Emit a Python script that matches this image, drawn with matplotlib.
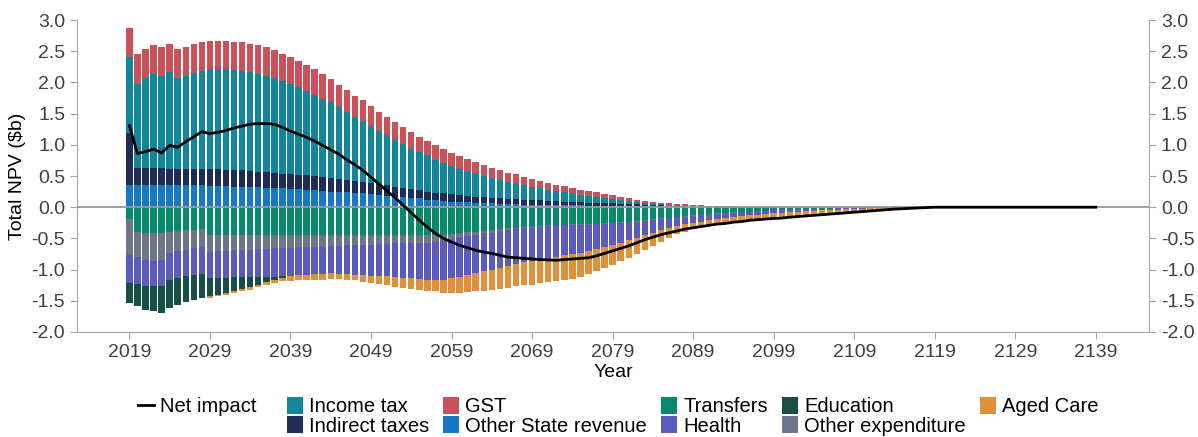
import numpy as np
import matplotlib
matplotlib.use("Agg")
import matplotlib.pyplot as plt
from matplotlib.lines import Line2D
from matplotlib.patches import Patch

plt.rcParams["font.family"] = ["Liberation Sans", "DejaVu Sans"]
plt.rcParams["axes.unicode_minus"] = False

# Data, $b, one value per year from 2019
start_year = 2019

# positive side (stacked up from zero)
other_state_revenue = [
    0.36, 0.36, 0.36, 0.36, 0.36, 0.35, 0.35, 0.35, 0.35, 0.35, 0.34, 0.34,
    0.34, 0.33, 0.33, 0.32, 0.32, 0.31, 0.31, 0.30, 0.29, 0.29, 0.28, 0.27, 0.26, 0.25,
    0.245, 0.24, 0.23, 0.22, 0.21, 0.20, 0.18, 0.17, 0.16, 0.15, 0.14, 0.12, 0.11, 0.10, 0.09, 0.085,
    0.08, 0.075, 0.07, 0.06, 0.055, 0.05, 0.045, 0.043, 0.04, 0.038, 0.036, 0.034, 0.032, 0.03,
    0.028, 0.027, 0.026, 0.025, 0.024, 0.022, 0.02, 0.019, 0.018, 0.017, 0.016, 0.015, 0.014,
    0.013, 0.012, 0.011, 0.01, 0.009, 0.008, 0.007, 0.006,
] + [0.0] * 23
indirect_taxes = [
    0.83, 0.27, 0.27, 0.27, 0.27, 0.27, 0.27, 0.27, 0.27, 0.26, 0.27, 0.27,
    0.26, 0.26, 0.26, 0.26, 0.25, 0.25, 0.24, 0.24, 0.24, 0.23, 0.23, 0.23, 0.22, 0.21,
    0.205, 0.20, 0.19, 0.19, 0.18, 0.17, 0.17, 0.16, 0.15, 0.14, 0.13, 0.13, 0.125, 0.12, 0.115, 0.105,
    0.10, 0.095, 0.09, 0.09, 0.085, 0.08, 0.08, 0.077, 0.075, 0.072, 0.069, 0.066, 0.058, 0.055,
    0.052, 0.048, 0.044, 0.04, 0.036, 0.033, 0.03, 0.026, 0.022, 0.018, 0.014, 0.012, 0.01,
    0.008, 0.006, 0.005, 0.004, 0.003, 0.002, 0.001, 0.0,
] + [0.0] * 23
income_tax = [
    1.22, 1.35, 1.44, 1.51, 1.47, 1.54, 1.45, 1.49, 1.53, 1.57, 1.60, 1.60,
    1.61, 1.61, 1.60, 1.59, 1.57, 1.55, 1.52, 1.48, 1.44, 1.40, 1.35, 1.30, 1.26, 1.22,
    1.16, 1.09, 1.03, 0.97, 0.91, 0.85, 0.80, 0.74, 0.70, 0.65, 0.61, 0.58, 0.525, 0.49, 0.455, 0.43,
    0.40, 0.37, 0.34, 0.32, 0.29, 0.28, 0.255, 0.23, 0.215, 0.19, 0.175, 0.16, 0.15, 0.14,
    0.123, 0.11, 0.096, 0.082, 0.068, 0.057, 0.046, 0.038, 0.029, 0.023, 0.018, 0.013, 0.008,
    0.006, 0.004, 0.003, 0.002, 0.002, 0.001, 0.001, 0.0,
] + [0.0] * 23
gst = [
    0.46, 0.48, 0.47, 0.46, 0.47, 0.46, 0.46, 0.46, 0.46, 0.47, 0.46, 0.46,
    0.46, 0.455, 0.45, 0.45, 0.46, 0.45, 0.45, 0.44, 0.44, 0.425, 0.42, 0.41, 0.39, 0.37,
    0.345, 0.345, 0.33, 0.335, 0.32, 0.31, 0.30, 0.30, 0.28, 0.27, 0.25, 0.23, 0.23, 0.22, 0.215, 0.20,
    0.185, 0.18, 0.18, 0.165, 0.16, 0.145, 0.145, 0.135, 0.12, 0.115, 0.11, 0.10, 0.10, 0.09,
    0.08, 0.077, 0.07, 0.06, 0.06, 0.054, 0.048, 0.04, 0.032, 0.027, 0.027, 0.024, 0.021,
    0.017, 0.011, 0.011, 0.008, 0.006, 0.004, 0.003, 0.002,
] + [0.0] * 23

# negative side (stacked down from zero)
transfers = [
    -0.19, -0.40, -0.42, -0.42, -0.42, -0.39, -0.38, -0.37, -0.36, -0.35,
    -0.45, -0.45, -0.45, -0.45, -0.45, -0.45, -0.45, -0.45, -0.45, -0.45,
    -0.45, -0.45, -0.45, -0.45, -0.45, -0.45, -0.45, -0.45, -0.45, -0.45,
    -0.45, -0.45, -0.45, -0.45, -0.45, -0.45, -0.45, -0.45, -0.45, -0.44,
    -0.43, -0.42, -0.40, -0.39, -0.38, -0.37, -0.35, -0.34, -0.33, -0.32,
    -0.31, -0.30, -0.29, -0.28, -0.28, -0.27, -0.27, -0.27, -0.27, -0.26,
    -0.25, -0.245, -0.235, -0.22, -0.21, -0.195, -0.18, -0.17, -0.16, -0.145,
    -0.13, -0.12, -0.11, -0.10, -0.09, -0.08, -0.075, -0.07, -0.062, -0.056,
    -0.05, -0.045, -0.04, -0.036, -0.032, -0.028, -0.025, -0.022, -0.019, -0.016,
    -0.014, -0.012, -0.01, -0.008, -0.006, -0.005, -0.004, -0.003, -0.002, -0.001,
]
other_expenditure = [
    -0.58, -0.40, -0.43, -0.45, -0.42, -0.34, -0.32, -0.31, -0.29, -0.28,
    -0.27, -0.26, -0.25, -0.24, -0.24, -0.23, -0.22, -0.22, -0.21, -0.20,
    -0.20, -0.19, -0.19, -0.18, -0.18, -0.17, -0.17, -0.16, -0.16, -0.15,
    -0.15, -0.14, -0.14, -0.13, -0.13, -0.13, -0.12, -0.12, -0.11, -0.10,
    -0.08, -0.06, -0.06, -0.05, -0.04, -0.04, -0.03, -0.02, -0.02, -0.02,
    -0.02, -0.01, -0.01, -0.01, -0.01, -0.01, -0.01, -0.01, -0.005, -0.01,
    -0.01, -0.01, -0.01, -0.01, -0.01, -0.01, -0.01, -0.01, -0.005, -0.005,
    -0.005, -0.005, -0.005, -0.005, -0.005, -0.005, -0.005, -0.002, -0.003, -0.002,
    -0.002, -0.002, -0.002, -0.002, -0.002, -0.002, -0.001, -0.001, -0.001, -0.001,
    -0.001, 0.0, 0.0, 0.0, 0.0, 0.0, 0.0, 0.0, 0.0, 0.0,
]
health = [
    -0.45, -0.43, -0.41, -0.40, -0.43, -0.43, -0.43, -0.43, -0.44, -0.44,
    -0.42, -0.42, -0.43, -0.43, -0.43, -0.44, -0.45, -0.45, -0.46, -0.46,
    -0.45, -0.45, -0.44, -0.44, -0.44, -0.44, -0.45, -0.46, -0.47, -0.49,
    -0.50, -0.52, -0.52, -0.54, -0.55, -0.56, -0.58, -0.59, -0.60, -0.62,
    -0.63, -0.64, -0.62, -0.61, -0.61, -0.59, -0.59, -0.585, -0.56, -0.54,
    -0.53, -0.54, -0.53, -0.51, -0.48, -0.47, -0.45, -0.42, -0.395, -0.37,
    -0.35, -0.315, -0.285, -0.26, -0.23, -0.205, -0.18, -0.155, -0.135, -0.125,
    -0.115, -0.105, -0.095, -0.085, -0.075, -0.07, -0.06, -0.058, -0.055, -0.052,
    -0.048, -0.043, -0.04, -0.036, -0.032, -0.028, -0.024, -0.021, -0.018, -0.015,
    -0.012, -0.011, -0.009, -0.007, -0.006, -0.004, -0.003, -0.002, -0.001, -0.001,
]
education = [
    -0.32, -0.35, -0.38, -0.39, -0.42, -0.45, -0.43, -0.41, -0.40, -0.39,
    -0.29, -0.27, -0.24, -0.22, -0.19, -0.16, -0.12, -0.08, -0.05, -0.03,
    -0.01,
] + [0.0] * 79
aged_care = [
    0.0, 0.0, 0.0, 0.0, 0.0, 0.0, 0.0, 0.0, 0.0, 0.0,
    -0.02, -0.03, -0.03, -0.04, -0.04, -0.04, -0.04, -0.04, -0.04, -0.05,
    -0.07, -0.08, -0.08, -0.09, -0.09, -0.09, -0.08, -0.09, -0.09, -0.11,
    -0.11, -0.12, -0.14, -0.16, -0.16, -0.17, -0.17, -0.18, -0.19, -0.21,
    -0.23, -0.25, -0.28, -0.30, -0.31, -0.32, -0.34, -0.345, -0.36, -0.37,
    -0.38, -0.37, -0.37, -0.38, -0.40, -0.40, -0.39, -0.37, -0.36, -0.33,
    -0.31, -0.30, -0.28, -0.26, -0.24, -0.21, -0.19, -0.155, -0.13, -0.115,
    -0.10, -0.095, -0.09, -0.09, -0.09, -0.085, -0.085, -0.08, -0.08, -0.08,
    -0.08, -0.08, -0.073, -0.066, -0.064, -0.062, -0.055, -0.051, -0.047, -0.043,
    -0.038, -0.032, -0.026, -0.021, -0.016, -0.011, -0.007, -0.004, -0.002, 0.0,
]

net_impact = [
    1.31, 0.86, 0.89, 0.93, 0.87, 0.99, 0.96, 1.05, 1.13, 1.21,
    1.18, 1.20, 1.23, 1.27, 1.30, 1.33, 1.34, 1.34, 1.33, 1.28,
    1.22, 1.17, 1.12, 1.06, 0.99, 0.92, 0.85, 0.76, 0.68, 0.59,
    0.48, 0.37, 0.26, 0.15, 0.03, -0.09, -0.21, -0.32, -0.42, -0.50,
    -0.56, -0.61, -0.65, -0.69, -0.72, -0.74, -0.77, -0.80, -0.81, -0.82,
    -0.83, -0.84, -0.845, -0.85, -0.84, -0.83, -0.82, -0.81, -0.78, -0.74,
    -0.70, -0.66, -0.62, -0.57, -0.52, -0.48, -0.44, -0.41, -0.38, -0.35,
    -0.33, -0.31, -0.29, -0.27, -0.26, -0.24, -0.23, -0.21, -0.20, -0.19,
    -0.18, -0.175, -0.16, -0.15, -0.14, -0.13, -0.12, -0.11, -0.10, -0.09,
    -0.08, -0.07, -0.06, -0.05, -0.04, -0.03, -0.025, -0.018, -0.012, -0.006,
] + [0.0] * 21

pos_series = [
    ("Other State revenue", other_state_revenue, "#1578C2"),
    ("Indirect taxes", indirect_taxes, "#1F2D55"),
    ("Income tax", income_tax, "#13869A"),
    ("GST", gst, "#C9525A"),
]
neg_series = [
    ("Transfers", transfers, "#07896C"),
    ("Other expenditure", other_expenditure, "#6C7686"),
    ("Health", health, "#5B5BBE"),
    ("Education", education, "#174E46"),
    ("Aged Care", aged_care, "#E08F3A"),
]

years = np.arange(start_year, start_year + len(transfers))
line_years = np.arange(start_year, start_year + len(net_impact))

fig = plt.figure(figsize=(11.98, 4.37), dpi=100)
ax = fig.add_axes([0.0643, 0.2403, 0.8948, 0.7139])

colors = {}
bottom = np.zeros(len(years))
for name, vals, col in pos_series:
    vals = np.array(vals)
    ax.bar(years, vals, bottom=bottom, width=0.8, color=col, linewidth=0, zorder=2)
    bottom += vals
    colors[name] = col
bottom = np.zeros(len(years))
for name, vals, col in neg_series:
    vals = np.array(vals)
    ax.bar(years, vals, bottom=bottom, width=0.8, color=col, linewidth=0, zorder=2)
    bottom += vals
    colors[name] = col

ax.axhline(0, color="#999999", lw=1.3, zorder=3)
ax.plot(line_years, net_impact, color="black", lw=2, zorder=4)

grey = "#A6A6A6"
ax.set_xlim(2012.5, 2145.6)
ax.set_ylim(-2, 3)
ax.set_xticks(np.arange(2019, 2140, 10))
yt = np.arange(-2, 3.01, 0.5)
ax.set_yticks(yt)
ax.set_yticklabels([f"{v:.1f}" for v in yt])
ax.set_xlabel("Year", fontsize=14, labelpad=2)
ax.set_ylabel("Total NPV ($b)", fontsize=14, labelpad=4)
for s in ["left", "right", "bottom"]:
    ax.spines[s].set_color(grey)
ax.spines["top"].set_visible(False)
ax.tick_params(axis="both", colors=grey, labelcolor="#404040", labelsize=14, length=5)

ax2 = ax.twinx()
ax2.set_ylim(-2, 3)
ax2.set_yticks(yt)
ax2.set_yticklabels([f"{v:.1f}" for v in yt])
for s in ["left", "right", "bottom", "top"]:
    ax2.spines[s].set_visible(False)
ax2.tick_params(axis="y", colors=grey, labelcolor="#404040", labelsize=14, length=5)

handles = [
    Line2D([], [], color="black", lw=2),
    Line2D([], [], color="none"),
]
labels = ["Net impact", " " * 20]
order = ["Income tax", "Indirect taxes", "GST", "Other State revenue",
         "Transfers", "Health", "Education", "Other expenditure", "Aged Care"]
for name in order:
    handles.append(Patch(facecolor=colors[name], linewidth=0))
    labels.append(name)
ax.legend(handles, labels, ncol=6, loc="upper center", bbox_to_anchor=(0.505, -0.176),
          frameon=False, fontsize=14.5, handlelength=0.8, handleheight=0.9,
          handletextpad=0.3, columnspacing=0.7, labelspacing=0.0, borderpad=0)

fig.savefig("out.png", dpi=100)
